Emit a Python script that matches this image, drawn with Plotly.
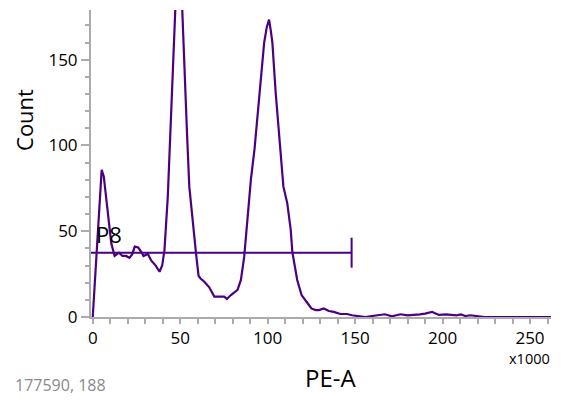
import plotly.graph_objects as go

# Histogram of PE-A (x1000) vs Count
pe_a = [0, 5.1, 6.3, 8.7, 10.6, 12.5, 13.8, 15, 17, 19, 21, 22.5, 24, 26, 28, 29, 31.5, 33.4, 36,
        38.2, 39.7, 41, 42.9, 44.4, 45.7, 47.1, 48.2, 49.2, 50.2, 51.1, 52.4, 53.9, 55.2, 57.1, 59,
        60.5, 61.5, 63.8, 66.6, 69.5, 72.3, 75.2, 76.7, 79, 82.8, 84.7, 86.6, 88.5, 90.4, 92.5, 94.1,
        96.1, 98, 99.5, 100.8, 101.8, 102.7, 104.6, 106.5, 109, 111.2, 113.2, 114.1, 116.9, 119.4,
        121.7, 123.6, 125, 127.4, 129.3, 132.1, 135, 137.8, 141.6, 145.4, 148.2, 152, 155.9, 159.7,
        163.4, 167, 171, 176, 180, 184, 187, 190, 194, 196, 198, 202, 205, 208, 210.5, 213, 216,
        220, 224, 230, 240, 250, 262]
counts = [0, 85.8, 82, 58.5, 43, 35.6, 36.8, 37.5, 35.6, 35.6, 34.5, 36.5, 41, 40.5, 37.5, 35.6, 36.8, 33, 30,
          26.4, 30, 39, 70, 107, 146, 179, 208, 230, 205, 179, 146, 107, 76, 55, 37.5,
          24, 22.6, 20.6, 17.3, 11.9, 11.9, 11.9, 10.5, 12.8, 15.8, 21.6, 35.2, 56.6, 80, 98, 115,
          140, 160, 169, 173.4, 167, 160, 130.6, 105, 76, 66.4, 50.8, 38, 21.6, 12.8,
          9.9, 7, 5, 4, 4, 5, 3.5, 3, 1.75, 1.75, 1, 0.6, 0, 0.6,
          1.2, 1.6, 0.4, 1.6, 1.0, 1.2, 1.5, 2, 3, 2, 1.2, 1.5, 1.2, 1.0, 1.5, 0.6, 1.0,
          0.4, 0, 0, 0, 0, 0]

# Gate P8
gate_name = "P8"
gate_x = [-1, 148]
gate_y = 37.5

x_ticks = [0, 50, 100, 150, 200, 250]
y_ticks = [0, 50, 100, 150]

purple = "#4B0082"
axis_gray = "#ababab"
font = "Open Sans"

fig = go.Figure()
fig.add_trace(go.Scatter(x=pe_a, y=counts, mode="lines",
                         line=dict(color=purple, width=2.2), hoverinfo="skip"))
fig.add_trace(go.Scatter(x=gate_x, y=[gate_y, gate_y], mode="lines",
                         line=dict(color=purple, width=2), hoverinfo="skip"))
fig.add_shape(type="line", xref="x", yref="y", x0=gate_x[1], x1=gate_x[1],
              ysizemode="pixel", yanchor=gate_y, y0=-15, y1=15,
              line=dict(color=purple, width=2))

fig.add_annotation(x=gate_x[0], y=gate_y, xref="x", yref="y", text=gate_name,
                   showarrow=False, xanchor="left", yanchor="bottom", xshift=3, yshift=2,
                   font=dict(family=font, size=22, color="black"))

fig.add_annotation(x=-0.1457, y=0.6417, xref="paper", yref="paper", text="Count",
                   textangle=-90, showarrow=False, xanchor="center", yanchor="middle",
                   font=dict(family=font, size=22, color="black"))
fig.add_annotation(x=0.52, y=-0.197, xref="paper", yref="paper", text="PE-A",
                   showarrow=False, xanchor="center", yanchor="middle",
                   font=dict(family=font, size=24, color="black"))
fig.add_annotation(x=1.003, y=-0.136, xref="paper", yref="paper", text="x1000",
                   showarrow=False, xanchor="right", yanchor="middle",
                   font=dict(family=font, size=14.5, color="black"))
fig.add_annotation(x=-0.17, y=-0.2215, xref="paper", yref="paper", text="177590, 188",
                   showarrow=False, xanchor="left", yanchor="middle",
                   font=dict(family=font, size=16, color="#8a8a8a"))

# page body has an 8px margin: size the figure so the plot area lands at x 91-551, y 10-317
fig.update_layout(
    width=556, height=395,
    margin=dict(l=83, r=13, t=2, b=86, autoexpand=False),
    paper_bgcolor="white", plot_bgcolor="white",
    showlegend=False,
    xaxis=dict(range=[-1, 262], tickvals=x_ticks, showgrid=False, zeroline=False,
               showline=True, linecolor=axis_gray, linewidth=2, automargin=False,
               ticks="outside", ticklen=5, tickwidth=2, tickcolor=axis_gray,
               minor=dict(dtick=10, tick0=0, ticks="outside", ticklen=5, tickwidth=2, tickcolor=axis_gray),
               tickfont=dict(family=font, size=17, color="black")),
    yaxis=dict(range=[0, 179], tickvals=y_ticks, showgrid=False, zeroline=False,
               showline=True, linecolor=axis_gray, linewidth=2, automargin=False,
               ticks="outside", ticklen=8, tickwidth=2, tickcolor=axis_gray,
               minor=dict(dtick=10, tick0=0, ticks="outside", ticklen=4, tickwidth=2, tickcolor=axis_gray),
               tickfont=dict(family=font, size=17, color="black")),
)

fig.write_html("out.html")
